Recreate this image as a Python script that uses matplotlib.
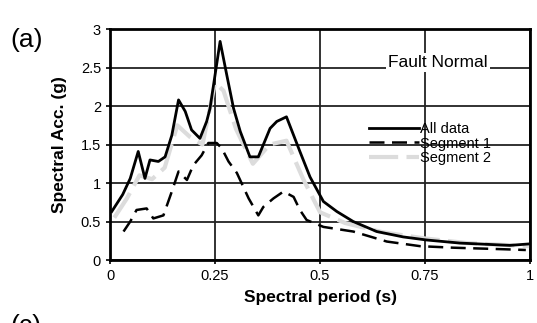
import numpy as np
import matplotlib.pyplot as plt

plt.rcParams['font.family'] = ['Liberation Sans', 'DejaVu Sans']

# Response spectra, fault-normal component
period_all = [0.004, 0.03, 0.048, 0.067, 0.083, 0.095, 0.115, 0.131, 0.147, 0.163,
              0.179, 0.194, 0.214, 0.23, 0.238, 0.262, 0.278, 0.294, 0.31, 0.333,
              0.353, 0.381, 0.397, 0.42, 0.452, 0.476, 0.508, 0.54, 0.579, 0.635,
              0.698, 0.754, 0.833, 0.952, 1.0]
sa_all = [0.63, 0.85, 1.06, 1.41, 1.06, 1.30, 1.28, 1.34, 1.62, 2.08,
          1.93, 1.69, 1.58, 1.80, 1.97, 2.84, 2.40, 1.97, 1.67, 1.34,
          1.34, 1.71, 1.80, 1.86, 1.41, 1.08, 0.76, 0.63, 0.50, 0.37,
          0.30, 0.26, 0.22, 0.19, 0.21]

period_seg1 = [0.032, 0.048, 0.063, 0.087, 0.103, 0.127, 0.147, 0.163, 0.183, 0.198,
               0.218, 0.234, 0.254, 0.266, 0.282, 0.302, 0.33, 0.353, 0.365, 0.389,
               0.413, 0.437, 0.452, 0.468, 0.508, 0.579, 0.659, 0.738, 0.817, 0.937,
               0.99]
sa_seg1 = [0.37, 0.50, 0.65, 0.67, 0.54, 0.58, 0.89, 1.15, 1.04, 1.23,
           1.36, 1.52, 1.52, 1.45, 1.28, 1.13, 0.80, 0.58, 0.69, 0.80,
           0.89, 0.82, 0.65, 0.52, 0.43, 0.37, 0.24, 0.18, 0.16, 0.14,
           0.13]

period_seg2 = [0.01, 0.04, 0.07, 0.1, 0.13, 0.16, 0.19, 0.22, 0.25, 0.27,
               0.3, 0.34, 0.38, 0.42, 0.46, 0.5, 0.56, 0.65, 0.75, 0.85, 1.0]
sa_seg2 = [0.55, 0.80, 1.10, 1.05, 1.20, 1.75, 1.60, 1.50, 2.30, 2.20,
           1.70, 1.25, 1.50, 1.55, 1.05, 0.62, 0.48, 0.36, 0.28, 0.22, 0.18]

xticks = [0, 0.25, 0.5, 0.75, 1]
xticklabels = ['0', '0.25', '0.5', '0.75', '1']
yticks = [0, 0.5, 1, 1.5, 2, 2.5, 3]
yticklabels = ['0', '0.5', '1', '1.5', '2', '2.5', '3']

fig = plt.figure(figsize=(5.37, 3.23), dpi=100)
ax = fig.add_axes([0.205, 0.195, 0.782, 0.715])

ax.plot(period_seg2, sa_seg2, color='#dcdcdc', lw=3.0, dashes=(7, 2),
        solid_capstyle='butt', label='Segment 2', zorder=2)
ax.plot(period_all, sa_all, color='black', lw=2.0, label='All data', zorder=4)
ax.plot(period_seg1, sa_seg1, color='black', lw=1.8, dashes=(6, 3),
        label='Segment 1', zorder=3)

ax.set_xlim(0, 1)
ax.set_ylim(0, 3)
ax.set_xticks(xticks)
ax.set_xticklabels(xticklabels)
ax.set_yticks(yticks)
ax.set_yticklabels(yticklabels)
ax.grid(True, color='#222222', lw=1.3)
ax.set_axisbelow(True)
for s in ax.spines.values():
    s.set_linewidth(2.0)
ax.tick_params(direction='out', length=3, width=1.2, labelsize=10.5)

ax.set_xlabel('Spectral period (s)', fontsize=12.5, fontweight='bold', labelpad=5)
ax.set_ylabel('Spectral Acc. (g)', fontsize=12.5, fontweight='bold', labelpad=10)

# reorder legend entries: All data, Segment 1, Segment 2
h, l = ax.get_legend_handles_labels()
order = [1, 2, 0]
leg = ax.legend([h[i] for i in order], [l[i] for i in order],
                loc='upper left', bbox_to_anchor=(0.6, 0.63), frameon=False,
                prop={'size': 10.5}, handlelength=3.4, handletextpad=0.1,
                labelspacing=0.05, borderpad=0)

ax.text(0.78, 2.57, 'Fault Normal', fontsize=12.5, ha='center', va='center',
        bbox=dict(facecolor='white', edgecolor='none', pad=1.5), zorder=5)

fig.text(0.02, 0.855, '(a)', fontsize=19)
fig.text(0.02, -0.03, '(c)', fontsize=19)

fig.savefig('out.png', dpi=100)
